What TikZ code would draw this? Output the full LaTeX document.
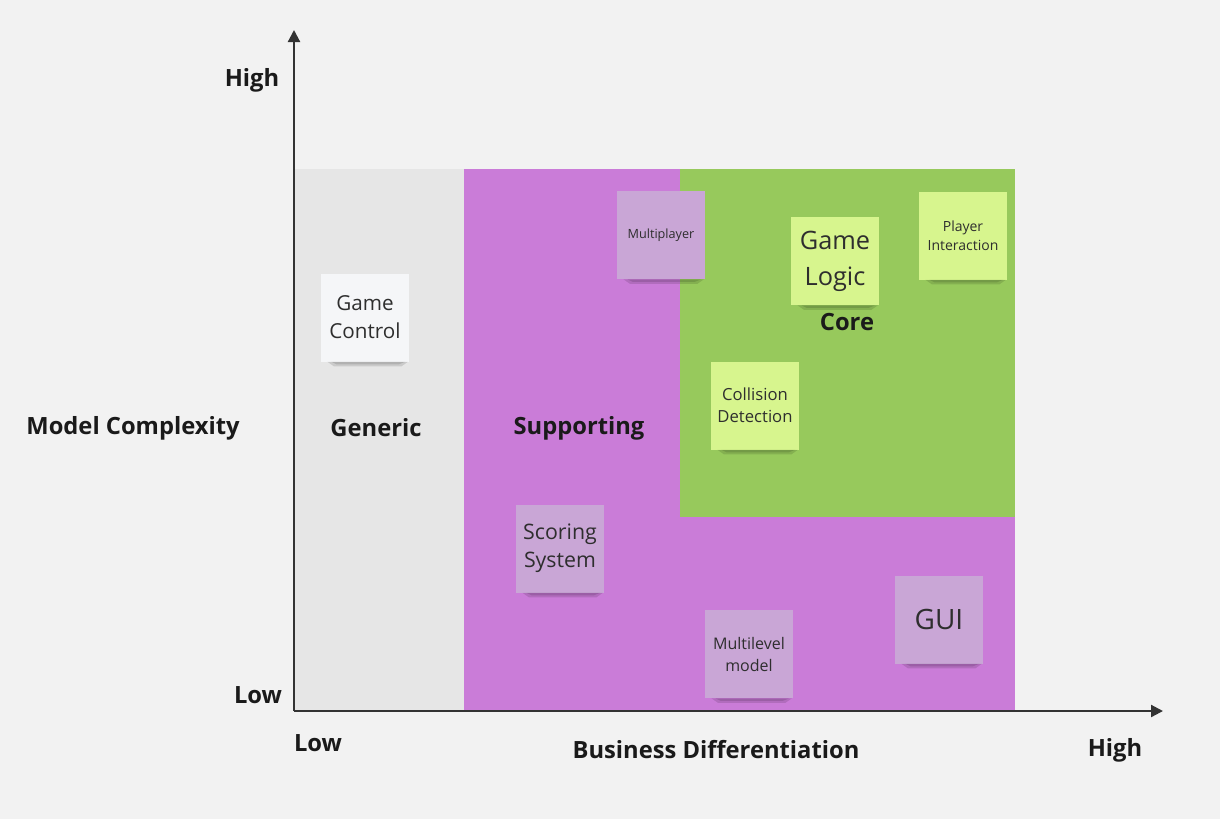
\documentclass[tikz,border=0pt]{standalone}
\usepackage{fontspec}
\setmainfont{Open Sans}
\usetikzlibrary{arrows.meta}
\definecolor{bgc}{HTML}{F2F2F2}
\definecolor{genc}{HTML}{E6E6E6}
\definecolor{supc}{HTML}{CA7CD8}
\definecolor{corec}{HTML}{97C95C}
\definecolor{axisc}{HTML}{333333}
\definecolor{txtc}{HTML}{1A1A1A}
\definecolor{stwhite}{HTML}{F5F6F8}
\definecolor{stpurple}{HTML}{C9A6D6}
\definecolor{stgreen}{HTML}{D7F58E}
\definecolor{sttxt}{HTML}{2E2E2E}
\tikzset{
  axislbl/.style={font=\fontsize{17.8}{21}\selectfont\bfseries, text=txtc, inner sep=0pt},
  sticky/.style={minimum width=66pt, minimum height=66pt, inner sep=1pt, align=center, text=sttxt},
  shade/.style={fill=black, opacity=0.12},
}
\newcommand{\stickyshadow}[1]{%
  \fill[shade] ([xshift=5pt]#1.south west) -- ([xshift=-1pt]#1.south east) -- ([xshift=-6pt,yshift=-3.5pt]#1.south east) -- ([xshift=10pt,yshift=-3.5pt]#1.south west) -- cycle;
  \fill[shade] ([xshift=8pt]#1.south west) -- ([xshift=-3pt]#1.south east) -- ([xshift=-8pt,yshift=-2pt]#1.south east) -- ([xshift=12pt,yshift=-2pt]#1.south west) -- cycle;}
\begin{document}
\begin{tikzpicture}[x=0.75pt,y=-0.75pt]
\fill[bgc] (0,0) rectangle (1220,819);
\useasboundingbox (0,0) rectangle (1220,819);
% regions
\fill[genc] (295,169) rectangle (464,711);
\fill[supc] (464,169) rectangle (1015,711);
\fill[corec] (680,169) rectangle (1015,517);
% axes
\coordinate (o) at (294,711);
\coordinate (ytop) at (294,30);
\coordinate (xend) at (1163,711);
\draw[axisc, line width=1.6pt, -{Triangle[length=9pt,width=9pt]}] (o) -- (ytop);
\draw[axisc, line width=1.6pt, -{Triangle[length=9pt,width=9pt]}] (o) -- (xend);
% axis labels
\node[axislbl] (yhigh) at (252,80) {High};
\node[axislbl] (ylow) at (258,695) {Low};
\node[axislbl] (ylab) at (133,428) {Model Complexity};
\node[axislbl] (xlow) at (318,743) {Low};
\node[axislbl] (xlab) at (716,750) {Business Differentiation};
\node[axislbl] (xhigh) at (1115,750) {High};
% region labels
\node[axislbl] (generic) at (376,428) {Generic};
\node[axislbl] (supporting) at (579,428) {Supporting};
\node[axislbl] (core) at (847,322) {Core};
% stickies
\node[sticky, fill=stwhite, font=\fontsize{15.5}{21}\selectfont] (gc) at (365,317.5) {Game\\Control};
\stickyshadow{gc}
\node[sticky, fill=stpurple, font=\fontsize{9.5}{12}\selectfont] (mp) at (661,235) {Multiplayer};
\stickyshadow{mp}
\node[sticky, fill=stgreen, font=\fontsize{19}{27}\selectfont] (gl) at (835,261) {Game\\Logic};
\stickyshadow{gl}
\node[sticky, fill=stgreen, font=\fontsize{10.5}{14}\selectfont] (pi) at (963,235.5) {Player\\Interaction};
\stickyshadow{pi}
\node[sticky, fill=stgreen, font=\fontsize{12.5}{16.5}\selectfont] (cd) at (755,405.5) {Collision\\Detection};
\stickyshadow{cd}
\node[sticky, fill=stpurple, font=\fontsize{16}{21}\selectfont] (ss) at (560,548.5) {Scoring\\System};
\stickyshadow{ss}
\node[sticky, fill=stpurple, font=\fontsize{12}{16.5}\selectfont] (ml) at (749,654) {Multilevel\\model};
\stickyshadow{ml}
\node[sticky, fill=stpurple, font=\fontsize{21}{26}\selectfont] (gui) at (939,619.5) {GUI};
\stickyshadow{gui}
\end{tikzpicture}
\end{document}
